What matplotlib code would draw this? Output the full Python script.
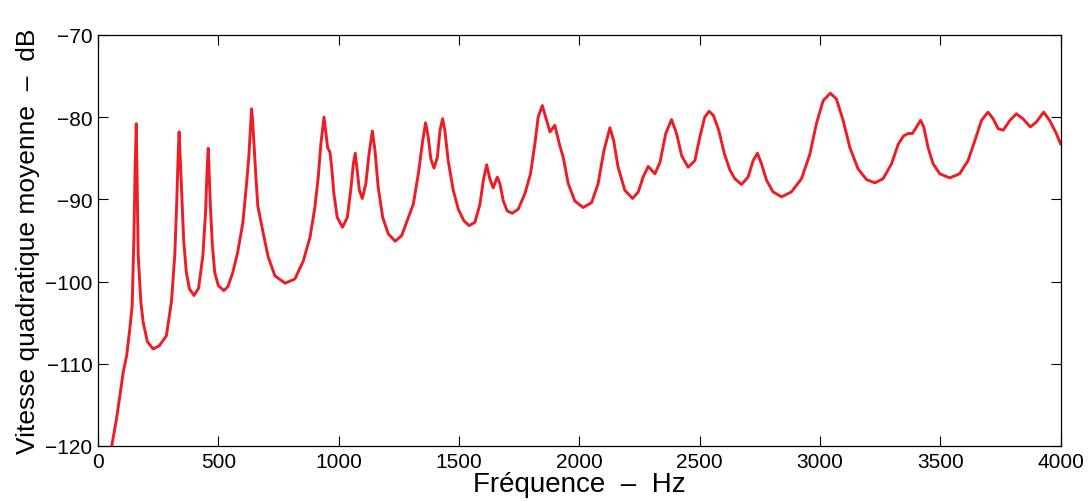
import matplotlib
matplotlib.use('Agg')
import matplotlib.pyplot as plt

# points (frequence en Hz, niveau en dB), rangee par rangee
freq = [57, 77, 105, 119, 132, 142, 149, 154, 159, 163,
        167, 178, 188, 205, 229, 255, 284, 305, 319, 327,
        333, 337, 341, 347, 356, 367, 380, 399, 418, 436,
        447, 453, 458, 462, 467, 475, 485, 500, 523, 540,
        560, 580, 602, 616, 627, 634, 638, 642, 647, 655,
        664, 687, 707, 735, 777, 818, 853, 881, 901, 915,
        926, 939, 947, 954, 964, 971, 980, 994, 1016, 1036,
        1050, 1061, 1069, 1077, 1086, 1098, 1113, 1126, 1140, 1151,
        1164, 1183, 1206, 1235, 1262, 1282, 1310, 1331, 1349, 1361,
        1372, 1383, 1396, 1410, 1421, 1432, 1441, 1455, 1476, 1497,
        1520, 1542, 1566, 1587, 1601, 1615, 1628, 1642, 1659, 1670,
        1684, 1700, 1721, 1746, 1774, 1797, 1815, 1829, 1846, 1860,
        1878, 1898, 1919, 1933, 1954, 1981, 2016, 2051, 2078, 2102,
        2127, 2143, 2161, 2189, 2221, 2245, 2265, 2286, 2314, 2335,
        2359, 2383, 2404, 2425, 2452, 2480, 2501, 2521, 2539, 2557,
        2579, 2603, 2625, 2646, 2674, 2701, 2722, 2740, 2757, 2778,
        2805, 2840, 2881, 2923, 2958, 2985, 3013, 3043, 3068, 3096,
        3124, 3158, 3193, 3228, 3262, 3297, 3325, 3347, 3366, 3384,
        3401, 3418, 3431, 3449, 3470, 3498, 3539, 3580, 3615, 3643,
        3671, 3698, 3719, 3740, 3761, 3789, 3816, 3843, 3874, 3899,
        3929, 3954, 3982, 4000]
niveau = [-120.0, -116.7, -111.0, -109.0, -105.8, -102.9, -94.8, -86.7, -80.8, -88.5,
          -96.8, -102.5, -105.0, -107.3, -108.2, -107.8, -106.6, -102.5, -96.8, -90.5,
          -84.7, -81.8, -84.5, -88.7, -95.0, -98.9, -100.9, -101.7, -100.8, -96.8,
          -91.5, -86.7, -83.8, -87.0, -90.8, -95.5, -98.9, -100.5, -101.1, -100.6,
          -98.9, -96.5, -92.8, -88.5, -84.7, -81.0, -79.0, -80.3, -82.7, -86.8,
          -90.8, -94.2, -97.0, -99.3, -100.2, -99.7, -97.5, -94.6, -91.0, -87.3,
          -83.3, -80.0, -82.0, -83.7, -84.3, -86.1, -89.3, -92.2, -93.4, -92.2,
          -88.9, -85.7, -84.4, -86.5, -88.9, -89.9, -88.1, -84.5, -81.7, -84.1,
          -88.5, -92.2, -94.2, -95.1, -94.4, -92.8, -90.6, -86.9, -82.9, -80.7,
          -82.4, -85.1, -86.2, -84.9, -81.6, -80.2, -81.6, -85.3, -88.9, -91.2,
          -92.6, -93.2, -92.8, -90.6, -87.7, -85.8, -87.5, -88.6, -87.3, -88.1,
          -90.2, -91.4, -91.7, -91.2, -89.3, -86.9, -83.3, -80.0, -78.6, -80.0,
          -81.8, -81.0, -83.5, -84.9, -88.1, -90.2, -91.0, -90.4, -88.1, -84.1,
          -81.3, -82.9, -86.1, -88.9, -89.9, -89.1, -87.3, -86.0, -86.9, -85.5,
          -82.0, -80.3, -82.0, -84.7, -86.1, -85.3, -82.4, -80.0, -79.3, -79.8,
          -81.6, -84.5, -86.4, -87.5, -88.2, -87.3, -85.3, -84.4, -85.7, -87.7,
          -89.1, -89.7, -89.1, -87.5, -84.5, -80.8, -78.0, -77.1, -77.8, -80.4,
          -83.7, -86.3, -87.6, -88.0, -87.5, -85.7, -83.3, -82.3, -82.0, -82.0,
          -81.2, -80.4, -81.2, -83.7, -85.7, -86.9, -87.4, -86.9, -85.3, -82.9,
          -80.4, -79.4, -80.2, -81.4, -81.6, -80.4, -79.6, -80.2, -81.2, -80.6,
          -79.4, -80.4, -82.0, -83.3]

xticks = [0, 500, 1000, 1500, 2000, 2500, 3000, 3500, 4000]
yticks = [-120, -110, -100, -90, -80, -70]

plt.rcParams['font.family'] = ['Liberation Sans Narrow', 'Liberation Sans', 'DejaVu Sans']

fig = plt.figure(figsize=(10.89, 5.02), dpi=100)
ax = fig.add_axes([0.090, 0.1096, 0.884, 0.819])
ax.plot(freq, niveau, color='#ee1c25', linewidth=2.1,
        solid_joinstyle='round', solid_capstyle='round')

ax.set_xlim(0, 4000)
ax.set_ylim(-120, -70)
ax.set_xticks(xticks)
ax.set_yticks(yticks)
ax.set_yticklabels(['\u2212%d' % abs(v) for v in yticks])
ax.tick_params(direction='in', length=7, width=0.8, top=True, right=True,
               labelsize=15, pad=4)
for s in ax.spines.values():
    s.set_linewidth(0.9)

ax.set_xlabel('Fréquence  \u2013  Hz', fontsize=20, labelpad=0,
              family=['Liberation Sans', 'DejaVu Sans'])
ax.set_ylabel('Vitesse quadratique moyenne  \u2013  dB', fontsize=19, labelpad=4,
              family=['Liberation Sans', 'DejaVu Sans'])

fig.savefig('out.png', dpi=100)
